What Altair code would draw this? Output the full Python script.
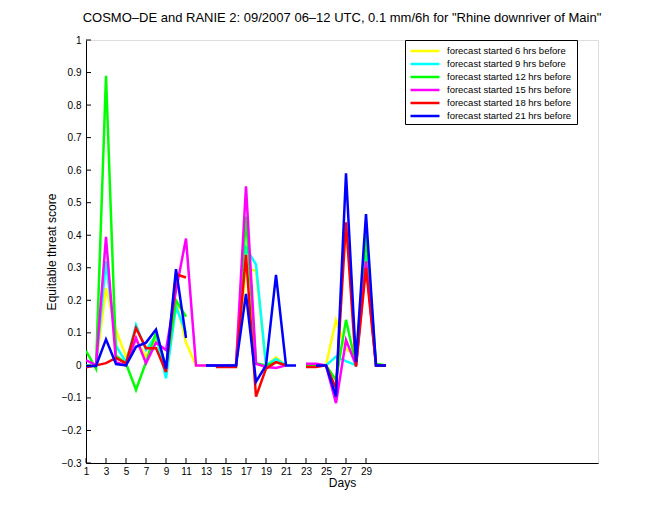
import altair as alt
import pandas as pd

days = list(range(1, 32))

labels = [
    "forecast started 6 hrs before",
    "forecast started 9 hrs before",
    "forecast started 12  hrs before",
    "forecast started 15  hrs before",
    "forecast started 18  hrs before",
    "forecast started 21  hrs before",
]
colors = ["#ffff00", "#00ffff", "#00ff00", "#ff00ff", "#ff0000", "#0000ff"]

N = None
yellow = [0.0, 0.0, 0.237, 0.108, 0.027, 0.08, 0.026, 0.08, -0.02, 0.2, 0.07, 0.0, 0.0, 0.0, 0.0, 0.0,
          0.3, 0.29, 0.0, 0.025, 0.0, N, 0.0, 0.0, 0.0, 0.14, 0.05, 0.03, 0.42, 0.0, 0.0]
cyan = [0.0, 0.0, 0.32, 0.06, 0.01, 0.124, 0.047, 0.093, -0.04, 0.18, 0.1, N, 0.0, 0.0, 0.0, 0.0,
        0.36, 0.31, 0.0, 0.02, 0.0, N, 0.0, 0.0, 0.0, 0.027, 0.013, 0.0, 0.34, 0.0, 0.0]
green = [0.045, -0.01, 0.89, 0.03, 0.006, -0.075, 0.01, 0.1, -0.005, 0.2, 0.15, N, 0.0, 0.0, 0.0, 0.0,
         0.457, 0.007, 0.0, 0.01, 0.0, N, 0.0, 0.0, 0.0, -0.045, 0.14, 0.0, 0.40, 0.005, 0.0]
magenta = [0.016, 0.0, 0.395, 0.01, 0.0, 0.084, 0.007, 0.07, 0.047, 0.23, 0.39, 0.0, 0.0, 0.0, 0.0, 0.0,
           0.55, 0.005, -0.005, -0.008, 0.0, N, 0.005, 0.005, 0.0, -0.116, 0.078, 0.0, 0.32, 0.0, 0.0]
red = [-0.006, 0.0, 0.007, 0.023, 0.006, 0.115, 0.053, 0.053, -0.02, 0.28, 0.27, N, N, -0.005, -0.005, -0.005,
       0.34, -0.096, -0.01, 0.01, 0.0, N, -0.005, -0.005, 0.0, -0.07, 0.44, -0.004, 0.30, 0.0, 0.0]
blue = [-0.002, -0.002, 0.08, 0.004, 0.0, 0.057, 0.07, 0.11, -0.01, 0.296, 0.084, N, 0.0, 0.0, 0.0, 0.0,
        0.22, -0.05, 0.0, 0.278, 0.0, 0.0, N, 0.0, 0.0, -0.096, 0.59, 0.01, 0.465, 0.0, 0.0]

series = [yellow, cyan, green, magenta, red, blue]

x_ticks = list(range(1, 30, 2))
y_ticks = [round(-0.3 + 0.1 * i, 1) for i in range(14)]

rows = []
for name, vals in zip(labels, series):
    seg = 0
    gap = True
    for d, v in zip(days, vals):
        if v is None:
            gap = True
            continue
        if gap:
            seg += 1
            gap = False
        rows.append({"day": d, "ets": v, "series": name, "seg": f"{name}#{seg}"})
df = pd.DataFrame(rows)

W, H = 512, 423
FONT = "Liberation Sans"

xscale = alt.Scale(domain=[1, 52.2], nice=False, zero=False)
yscale = alt.Scale(domain=[-0.3, 1.0], nice=False, zero=False)

color = alt.Color(
    "series:N",
    scale=alt.Scale(domain=labels, range=colors),
    sort=labels,
    legend=alt.Legend(
        title=None, orient="none", legendX=319, legendY=0,
        symbolType="M-2.18,0H2.18", symbolSize=177, symbolStrokeWidth=2.5,
        symbolOffset=9, labelOffset=14,
        labelFontSize=9.5, labelFont=FONT, labelColor="black",
        fillColor="white", strokeColor="black", padding=3, rowPadding=0,
    ),
)

xaxis = alt.Axis(values=x_ticks, title="Days", ticks=False, domainColor="black", labelColor="black",
                 labelFontSize=10, labelFont=FONT, labelPadding=3, titleFont=FONT, titleFontSize=12,
                 titleFontWeight="normal", titleColor="black", titlePadding=1, grid=False, labelFlush=False,
                 orient="bottom")
yaxis = alt.Axis(values=y_ticks, title="Equitable threat score", ticks=False, domainColor="black",
                 labelColor="black", labelFontSize=10, labelFont=FONT, labelPadding=5, format=".1~f",
                 titleFont=FONT, titleFontSize=12, titleFontWeight="normal", titleColor="black",
                 titlePadding=3, grid=False, labelFlush=False, orient="left")

layers = []
for name in labels:
    layers.append(
        alt.Chart(df).transform_filter(alt.datum.series == name).mark_line(strokeWidth=2.5, clip=True).encode(
            x=alt.X("day:Q", scale=xscale, axis=xaxis),
            y=alt.Y("ets:Q", scale=yscale, axis=yaxis),
            color=color,
            detail="seg:N",
        )
    )

xt = pd.DataFrame({"day": x_ticks})
yt = pd.DataFrame({"ets": y_ticks})
xtick_layer = alt.Chart(xt).mark_rule(color="black", strokeWidth=1).encode(
    x=alt.X("day:Q", scale=xscale, axis=xaxis), y=alt.value(H), y2=alt.value(H - 5))
ytick_layer = alt.Chart(yt).mark_rule(color="black", strokeWidth=1).encode(
    y=alt.Y("ets:Q", scale=yscale, axis=yaxis), x=alt.value(0), x2=alt.value(5))

chart = alt.layer(*layers, xtick_layer, ytick_layer).properties(
    width=W, height=H,
    title=alt.Title('COSMO\u2013DE and RANIE 2: 09/2007 06\u201312 UTC, 0.1 mm/6h for "Rhine downriver of Main"',
                    font=FONT, fontSize=13, fontWeight="normal", color="black", offset=10, anchor="middle"),
    autosize=alt.AutoSizeParams(type="none"),
    padding={"left": 86, "top": 40, "right": 62, "bottom": 57},
).configure_view(stroke=None).configure(background="white")

chart.save("out.html", embed_options={"renderer": "svg", "actions": False})
